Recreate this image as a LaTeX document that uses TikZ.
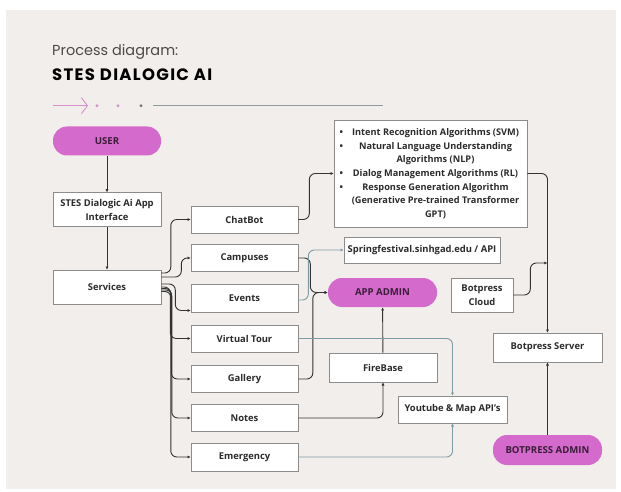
\documentclass[tikz,border=0pt]{standalone}
\usepackage{fontspec}
\setmainfont{Open Sans}
\newfontfamily\titlefont{Poppins}
\usetikzlibrary{arrows.meta}
\definecolor{bgc}{HTML}{F2EEEB}
\definecolor{pill}{HTML}{D46ACB}
\definecolor{pilltxt}{HTML}{3A1D39}
\definecolor{boxline}{HTML}{8C8C8C}
\definecolor{txt}{HTML}{2B2B2B}
\definecolor{conn}{HTML}{333333}
\definecolor{tealc}{HTML}{7D9BA3}
\definecolor{pinkl}{HTML}{D78FD2}
\definecolor{grayl}{HTML}{8E9CA2}
\tikzset{
  box/.style={draw=boxline, line width=0.6pt, fill=white, text=txt, font=\fontsize{9.4}{14.3}\selectfont\bfseries, align=center, inner sep=1pt},
  pillbox/.style={fill=pill, text=pilltxt, font=\fontsize{9.6}{12}\selectfont\bfseries, align=center, rounded corners=14pt, inner sep=1pt},
  link/.style={draw=conn, line width=0.9pt, rounded corners=6pt, -{Latex[length=3.2pt,width=3pt]}},
  tlink/.style={draw=tealc, line width=0.9pt, rounded corners=6pt, -{Latex[length=3.2pt,width=3pt]}},
}
\begin{document}
\begin{tikzpicture}[x=1pt,y=-1pt]
\useasboundingbox (0,0) rectangle (621,492);
\fill[white] (0,0) rectangle (621,492);
\fill[bgc] (6,10) rectangle (616,489);
% header
\node[anchor=base west, inner sep=0, text=txt!85, font=\titlefont\fontsize{14.5}{18}\selectfont] (ptitle) at (52,56) {Process diagram:};
\node[anchor=base west, inner sep=0, text=black, font=\titlefont\fontsize{16.5}{18}\selectfont\bfseries\addfontfeature{LetterSpace=8}] (mtitle) at (52,81) {STES DIALOGIC AI};
\draw[pinkl, line width=0.9pt, -{Straight Barb[length=6pt,width=16pt]}] (53,105.7) -- (88,105.7);
\fill[pinkl] (97,105.7) circle (1.6);
\fill[pinkl] (118,105.7) circle (1.6);
\fill[grayl!80!black] (141,105.7) circle (1.6);
\draw[grayl, line width=1.1pt] (153,105.7) -- (383,105.7);
% nodes
\node[pillbox, minimum width=108, minimum height=29] (user) at (107,141) {USER};
\node[box, minimum width=108, minimum height=34] (iface) at (107,209.7) {STES Dialogic Ai App\\Interface};
\node[box, minimum width=108, minimum height=34] (services) at (107,287) {Services};
\node[box, minimum width=107, minimum height=27] (chatbot) at (244.5,219.5) {ChatBot};
\node[box, minimum width=107, minimum height=27.5] (campuses) at (244.5,258) {Campuses};
\node[box, minimum width=107, minimum height=28] (events) at (244.5,298) {Events};
\node[box, minimum width=107, minimum height=27] (vtour) at (244.5,338.5) {Virtual Tour};
\node[box, minimum width=107, minimum height=27.5] (gallery) at (244.5,379) {Gallery};
\node[box, minimum width=107, minimum height=27.5] (notes) at (244.5,418) {Notes};
\node[box, minimum width=107, minimum height=28] (emergency) at (244.5,457) {Emergency};
\node[box, minimum width=193, minimum height=107] (algo) at (430.5,173.5) {};
\node[text=txt, font=\fontsize{9.2}{13.7}\selectfont\bfseries, inner sep=0] (algotext) at (431,173.8) {%
\begin{tabular}{@{}l@{}c@{}}
\makebox[9pt][l]{\textbullet} & \makebox[174pt][c]{Intent Recognition Algorithms (SVM)}\\
\makebox[9pt][l]{\textbullet} & \makebox[174pt][c]{Natural Language Understanding}\\
 & \makebox[174pt][c]{Algorithms (NLP)}\\
\makebox[9pt][l]{\textbullet} & \makebox[174pt][c]{Dialog Management Algorithms (RL)}\\
\makebox[9pt][l]{\textbullet} & \makebox[174pt][c]{Response Generation Algorithm}\\
 & \makebox[174pt][c]{(Generative Pre-trained Transformer}\\
 & \makebox[174pt][c]{GPT)}
\end{tabular}};
\node[box, minimum width=156, minimum height=26] (spring) at (422,250) {Springfestival.sinhgad.edu / API};
\node[pillbox, minimum width=109, minimum height=29] (appadmin) at (382.5,292.5) {APP ADMIN};
\node[box, minimum width=108, minimum height=29] (firebase) at (383,367.5) {FireBase};
\node[box, minimum width=109, minimum height=27] (youtube) at (452.5,409.5) {Youtube \& Map API's};
\node[box, minimum width=62, minimum height=34] (cloud) at (482,295) {Botpress\\Cloud};
\node[box, minimum width=109, minimum height=29] (server) at (547.5,347.5) {Botpress Server};
\node[pillbox, minimum width=109, minimum height=30] (badmin) at (547.5,450) {BOTPRESS ADMIN};
\coordinate (cj) at (547.5,263);
% connectors
\draw[link] (user) -- (iface);
\draw[link] (iface) -- (services);
\draw[link] ([yshift=14pt]services.east) -- ++(9.5,0) |- (chatbot.west);
\draw[link] ([yshift=10pt]services.east) -- ++(20,0) |- (campuses.west);
\draw[link] ([yshift=3pt]services.east) -- ++(14,0) |- ([yshift=-12.5pt]events.west);
\draw[link] ([yshift=0pt]services.east) -- ++(9,0) |- (vtour.west);
\draw[link] ([yshift=-1.5pt]services.east) -- ++(10,0) |- (gallery.west);
\draw[link] ([yshift=-3pt]services.east) -- ++(10.5,0) |- (notes.west);
\draw[link] ([yshift=-4.5pt]services.east) -- ++(9.5,0) |- (emergency.west);
\draw[link] (chatbot.east) -- ++(11,0) |- (algo.west);
\draw[link] (algo.east) -| (server.north);
\draw[link] (cloud.east) -- ++(17,0) |- (cj);
\draw[link] (badmin) -- (server);
\draw[link] (campuses.east) -- ++(12,0) |- (appadmin.west);
\draw[link] (gallery.east) -- ++(14.5,0) |- (appadmin.west);
\draw[tlink] ([yshift=-2pt]events.east) -- ++(10,0) |- (spring.west);
\draw[link] (firebase) -- (appadmin);
\draw[link] (notes.east) -| (firebase.south);
\draw[tlink] (vtour.east) -| (youtube.north);
\draw[tlink] (emergency.east) -| (youtube.south);
\end{tikzpicture}
\end{document}
